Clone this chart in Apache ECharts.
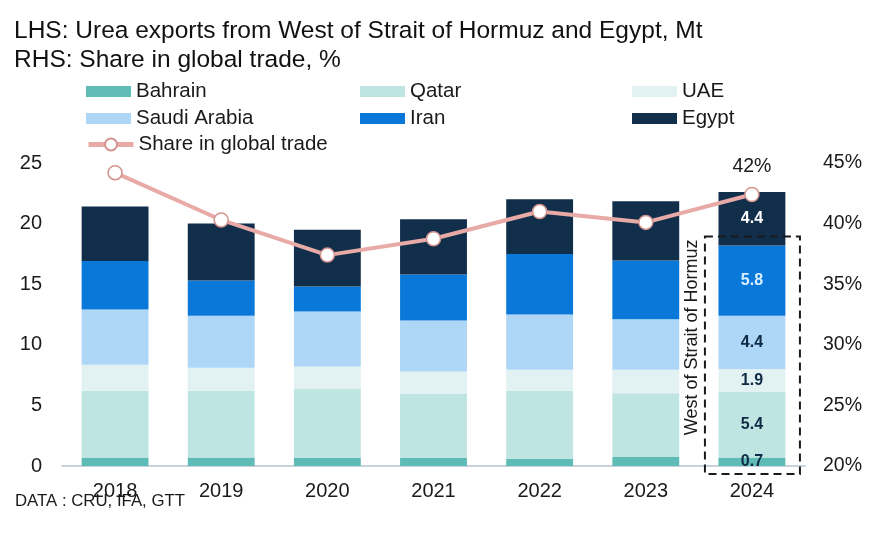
<!DOCTYPE html>
<html>
<head>
<meta charset="utf-8">
<script src="https://cdn.jsdelivr.net/npm/echarts@6/dist/echarts.min.js"></script>
<style>
  html, body { margin: 0; padding: 0; background: #fff; }
  #main { width: 876px; height: 533px; }
</style>
</head>
<body>
<div id="main"></div>
<script>
var years = ['2018', '2019', '2020', '2021', '2022', '2023', '2024'];
// Mt
var bahrain = [0.7, 0.7, 0.65, 0.65, 0.6, 0.75, 0.7];
var qatar = [5.5, 5.5, 5.7, 5.3, 5.6, 5.25, 5.4];
var uae = [2.15, 1.9, 1.85, 1.85, 1.75, 1.95, 1.9];
var saudi = [4.57, 4.3, 4.55, 4.2, 4.55, 4.15, 4.4];
var iran = [4.0, 2.9, 2.05, 3.8, 5.0, 4.85, 5.8];
var egypt = [4.5, 4.7, 4.7, 4.55, 4.5, 4.9, 4.4];
// %
var share = [44.2, 40.3, 37.4, 38.75, 41.0, 40.1, 42.4];

var FONT = 'Arial, "Liberation Sans", sans-serif';
var chart = echarts.init(document.getElementById('main'));

// only the last bar gets value labels
function barData(arr, labelColor) {
  return arr.map(function (v, i) {
    if (i !== arr.length - 1) return v;
    return {
      value: v,
      label: {
        show: true,
        position: 'inside',
        formatter: function () { return v.toFixed(1); },
        color: labelColor,
        fontFamily: FONT,
        fontSize: 16,
        fontWeight: 'bold'
      }
    };
  });
}

function barSeries(name, arr, color, labelColor) {
  return {
    name: name,
    type: 'bar',
    stack: 'exp',
    barWidth: '63%',
    itemStyle: { color: color },
    data: barData(arr, labelColor),
    z: 2
  };
}

var legendText = { fontFamily: FONT, fontSize: 20.5, color: '#1a1a1a' };
function legendBox(names, left) {
  return {
    data: names.map(function (n) { return { name: n, icon: 'rect' }; }),
    orient: 'vertical', left: left, top: 81, padding: 0, itemGap: 6,
    itemWidth: 45, itemHeight: 11,
    textStyle: legendText
  };
}

var option = {
  animation: false,
  backgroundColor: '#fff',
  title: {
    text: 'LHS: Urea exports from West of Strait of Hormuz and Egypt, Mt\nRHS: Share in global trade, %',
    left: 9,
    top: 12,
    textStyle: { fontFamily: FONT, fontSize: 24.5, fontWeight: 'normal', color: '#111', lineHeight: 29 }
  },
  legend: [
    legendBox(['Bahrain', 'Saudi Arabia'], 86),
    legendBox(['Qatar', 'Iran'], 360),
    legendBox(['UAE', 'Egypt'], 632),
    {
      data: [{ name: 'Share in global trade', lineStyle: { width: 5, color: '#e8aaa6' } }],
      left: 86, top: 134, padding: 0,
      itemWidth: 45, itemHeight: 15,
      textStyle: legendText
    }
  ],
  grid: { left: 62, right: 71, top: 163, bottom: 67 },
  xAxis: {
    type: 'category',
    data: years,
    axisLine: { lineStyle: { color: '#c8d2dc', width: 2 } },
    axisTick: { show: false },
    axisLabel: { fontFamily: FONT, fontSize: 20, color: '#1a1a1a', margin: 15 }
  },
  yAxis: [
    {
      type: 'value', min: 0, max: 25, interval: 5,
      splitLine: { show: false },
      axisLine: { show: false },
      axisLabel: { fontFamily: FONT, fontSize: 20, color: '#1a1a1a', margin: 20 }
    },
    {
      type: 'value', min: 20, max: 45, interval: 5, position: 'right',
      splitLine: { show: false },
      axisLine: { show: false },
      axisLabel: { fontFamily: FONT, fontSize: 19.5, color: '#1a1a1a', margin: 18, formatter: '{value}%' }
    }
  ],
  series: [
    barSeries('Bahrain', bahrain, '#5fbbb5', '#0f2a44'),
    barSeries('Qatar', qatar, '#bfe5e2', '#0f2a44'),
    barSeries('UAE', uae, '#e2f2f2', '#0f2a44'),
    barSeries('Saudi Arabia', saudi, '#aed6f7', '#0f2a44'),
    barSeries('Iran', iran, '#0a78d8', '#d8f0ff'),
    barSeries('Egypt', egypt, '#112e4b', '#ffffff'),
    {
      name: 'Share in global trade',
      type: 'line',
      yAxisIndex: 1,
      symbol: 'circle',
      symbolSize: 14,
      itemStyle: { color: '#fff', borderColor: '#d3938f', borderWidth: 1.5 },
      lineStyle: { color: '#e8aaa6', width: 4 },
      z: 5,
      data: share.map(function (v, i) {
        if (i !== share.length - 1) return v;
        return {
          value: v,
          label: {
            show: true, position: 'top', distance: 10,
            formatter: function () { return Math.round(v) + '%'; },
            fontFamily: FONT, fontSize: 19.5, color: '#1a1a1a'
          }
        };
      })
    }
  ]
};

chart.setOption(option);

// dashed box + rotated note around the Gulf part of the last bar
var last = years.length - 1;
var gulfTop = bahrain[last] + qatar[last] + uae[last] + saudi[last] + iran[last];
var pTop = chart.convertToPixel({ xAxisIndex: 0, yAxisIndex: 0 }, [last, gulfTop]);
var pZero = chart.convertToPixel({ xAxisIndex: 0, yAxisIndex: 0 }, [last, 0]);
var bx = pTop[0] - 47, by = pTop[1] - 9;
var bw = 95, bh = pZero[1] + 8 - by;

chart.setOption({
  graphic: [
    {
      type: 'rect',
      shape: { x: bx, y: by, width: bw, height: bh },
      style: { fill: 'none', stroke: '#1a1a1a', lineWidth: 2, lineDash: [8, 5] },
      z: 10
    },
    {
      type: 'text',
      x: bx - 13,
      y: by + 101,
      rotation: Math.PI / 2,
      style: {
        text: 'West of Strait of Hormuz',
        fontFamily: FONT, fontSize: 18, fill: '#1a1a1a',
        align: 'center', verticalAlign: 'middle'
      },
      z: 10
    },
    {
      type: 'text',
      left: 15,
      top: 493,
      style: { text: 'DATA : CRU, IFA, GTT', fontFamily: FONT, fontSize: 16.8, fill: '#1a1a1a' }
    }
  ]
});
</script>
</body>
</html>
